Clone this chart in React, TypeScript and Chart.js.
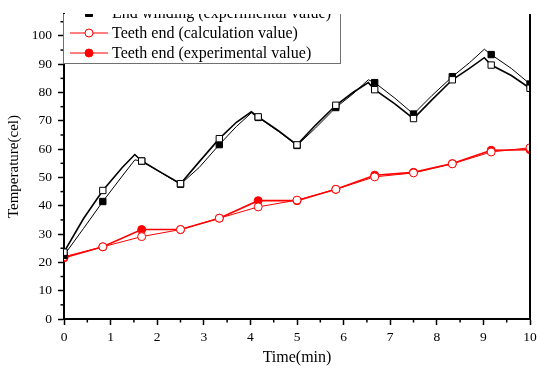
import React, { useEffect, useRef } from "react";
import { Chart, registerables } from "chart.js";

Chart.register(...registerables);

const MARK_TIMES = [0, 0.833, 1.667, 2.5, 3.333, 4.167, 5, 5.833, 6.667, 7.5, 8.333, 9.167, 10];

const END_TIMES = [0, 0.42, 0.833, 1.25, 1.52, 1.667, 2.08, 2.5, 2.9, 3.333, 3.7, 4.02, 4.167, 4.6, 5, 5.4, 5.833, 6.2, 6.53, 6.667, 7.1, 7.5, 7.9, 8.333, 8.7, 9.02, 9.167, 9.6, 10];
const END_CALC = [23.6, 35.5, 45.4, 53.5, 58.1, 55.8, 51.8, 47.8, 55.5, 63.7, 69.5, 73.2, 71.4, 66.5, 61.5, 68.5, 75.5, 80, 83.5, 81, 76, 70.8, 77.5, 84.5, 88.5, 92.3, 89.7, 86, 81.5];
const END_EXP = [22.5, 32, 41.5, 50.5, 56.2, 55.8, 51.7, 47.6, 53.5, 61.6, 68, 72.8, 71.2, 66.3, 61.3, 67.5, 74.7, 79.5, 84.5, 83.5, 78, 72.4, 79, 85.6, 90.5, 95.3, 93.4, 88.5, 83];

const TEETH_TIMES = [0, 0.833, 1.667, 2.5, 3.333, 4.167, 5, 5.833, 6.667, 7.5, 8.333, 9.167, 10];
const TEETH_CALC = [22, 25.5, 29.1, 31.6, 35.6, 39.6, 42, 45.8, 50.2, 51.6, 54.8, 59, 60.5];
const TEETH_EXP = [21.6, 25.5, 31.6, 31.6, 35.6, 41.8, 41.8, 45.8, 50.8, 51.8, 54.9, 59.6, 59.8];

const X_TICKS = [0, 1, 2, 3, 4, 5, 6, 7, 8, 9, 10];
const X_MINOR = [0.5, 1.5, 2.5, 3.5, 4.5, 5.5, 6.5, 7.5, 8.5, 9.5];
const Y_TICKS = [0, 10, 20, 30, 40, 50, 60, 70, 80, 90, 100];
const Y_MINOR = [5, 15, 25, 35, 45, 55, 65, 75, 85, 95, 105];

const LEGEND_LABELS = [
  "End winding (calculation value)",
  "End winding (experimental value)",
  "Teeth end (calculation value)",
  "Teeth end (experimental value)",
];

const FONT = "'Liberation Serif', 'Times New Roman', serif";

function isMark(x: number) {
  return MARK_TIMES.some((m) => Math.abs(m - x) < 0.005);
}

function drawMarker(ctx: CanvasRenderingContext2D, style: string, color: string, filled: boolean, x: number, y: number) {
  ctx.save();
  ctx.lineWidth = 1;
  ctx.strokeStyle = color;
  ctx.fillStyle = filled ? color : "#ffffff";
  ctx.beginPath();
  if (style === "rect") {
    ctx.rect(x - 3.5, y - 3.5, 7, 7);
  } else {
    ctx.arc(x, y, 4, 0, Math.PI * 2);
  }
  ctx.fill();
  ctx.stroke();
  ctx.restore();
}

export default function App() {
  const ref = useRef<HTMLCanvasElement | null>(null);

  useEffect(() => {
    document.body.style.margin = "0";
    const canvas = ref.current;
    if (!canvas) return;

    const mk = (times: number[], vals: number[]) => times.map((t, i) => ({ x: t, y: vals[i] }));

    const series = [
      { label: LEGEND_LABELS[0], data: mk(END_TIMES, END_CALC), color: "#000000", style: "rect", filled: false, width: 1.6 },
      { label: LEGEND_LABELS[1], data: mk(END_TIMES, END_EXP), color: "#000000", style: "rect", filled: true, width: 1 },
      { label: LEGEND_LABELS[2], data: mk(TEETH_TIMES, TEETH_CALC), color: "#ff0000", style: "circle", filled: false, width: 1 },
      { label: LEGEND_LABELS[3], data: mk(TEETH_TIMES, TEETH_EXP), color: "#ff0000", style: "circle", filled: true, width: 1.6 },
    ];

    const extras = {
      id: "extras",
      afterDatasetsDraw(chart: any) {
        const ctx = chart.ctx as CanvasRenderingContext2D;
        const area = chart.chartArea;
        const xs = chart.scales.x;
        const ys = chart.scales.y;
        ctx.save();
        ctx.strokeStyle = "#000";
        ctx.lineWidth = 1.5;
        for (const v of X_MINOR) {
          const px = xs.getPixelForValue(v);
          ctx.beginPath();
          ctx.moveTo(px, area.bottom);
          ctx.lineTo(px, area.bottom + 3.5);
          ctx.stroke();
        }
        for (const v of Y_MINOR) {
          const py = ys.getPixelForValue(v);
          ctx.beginPath();
          ctx.moveTo(area.left, py);
          ctx.lineTo(area.left - 3.5, py);
          ctx.stroke();
        }
        ctx.lineWidth = 2;
        ctx.beginPath();
        ctx.moveTo(area.right, area.top);
        ctx.lineTo(area.right, area.bottom + 1);
        ctx.stroke();
        ctx.restore();

        ctx.save();
        ctx.beginPath();
        ctx.rect(0, area.top, chart.width, chart.height - area.top);
        ctx.clip();
        const boxL = area.left - 1;
        const boxR = 340;
        const boxB = 63;
        const boxT = -30;
        ctx.fillStyle = "#ffffff";
        ctx.fillRect(boxL, boxT, boxR - boxL, boxB - boxT);
        ctx.strokeStyle = "#707070";
        ctx.lineWidth = 1;
        ctx.strokeRect(boxL + 0.5, boxT + 0.5, boxR - boxL, boxB - boxT);
        const rowY = [-7, 13, 33, 53];
        ctx.font = `16px ${FONT}`;
        ctx.textBaseline = "middle";
        ctx.textAlign = "left";
        series.forEach((s, i) => {
          const y = rowY[i];
          ctx.strokeStyle = s.color;
          ctx.lineWidth = 1.2;
          ctx.beginPath();
          ctx.moveTo(70, y);
          ctx.lineTo(108, y);
          ctx.stroke();
          drawMarker(ctx, s.style, s.color, s.filled, 89, y);
          ctx.fillStyle = "#000";
          ctx.fillText(s.label, 112, y + 1);
        });
        ctx.restore();
      },
    };

    const chart = new Chart(canvas, {
      type: "line",
      data: {
        datasets: series.map((s) => ({
          label: s.label,
          data: s.data,
          borderColor: s.color,
          backgroundColor: s.filled ? s.color : "#ffffff",
          borderWidth: s.width,
          pointStyle: s.style as any,
          pointRadius: (c: any) => (isMark(c.raw?.x) ? (s.style === "rect" ? 4.5 : 4) : 0),
          pointBorderWidth: 1,
          pointBorderColor: s.color,
          pointBackgroundColor: s.filled ? s.color : "#ffffff",
          tension: 0,
          fill: false,
        })),
      },
      options: {
        animation: false,
        responsive: false,
        maintainAspectRatio: false,
        layout: { padding: { top: 12, right: 7, left: 0, bottom: 0 } },
        plugins: { legend: { display: false }, tooltip: { enabled: false } },
        scales: {
          x: {
            type: "linear",
            min: 0,
            max: 10,
            afterBuildTicks: (sc: any) => {
              sc.ticks = X_TICKS.map((v) => ({ value: v }));
            },
            afterFit: (sc: any) => {
              sc.height = 53;
              sc.paddingRight = 0;
              sc.paddingLeft = 0;
            },
            ticks: {
              color: "#000",
              font: { family: FONT, size: 13.5 },
              padding: 4,
              maxRotation: 0,
              autoSkip: false,
            },
            grid: {
              drawOnChartArea: false,
              drawTicks: true,
              tickLength: 6,
              tickWidth: 1.5,
              tickColor: "#000",
            },
            border: { display: true, color: "#000", width: 2 },
            title: {
              display: true,
              text: "Time(min)",
              color: "#000",
              font: { family: FONT, size: 16 },
              padding: { top: 0, bottom: 5 },
            },
          },
          y: {
            type: "linear",
            min: 0,
            max: 107.7,
            afterBuildTicks: (sc: any) => {
              sc.ticks = Y_TICKS.map((v) => ({ value: v }));
            },
            afterFit: (sc: any) => {
              sc.width = 64;
            },
            ticks: {
              color: "#000",
              font: { family: FONT, size: 13.5 },
              padding: 6,
              autoSkip: false,
            },
            grid: {
              drawOnChartArea: false,
              drawTicks: true,
              tickLength: 6,
              tickWidth: 1.5,
              tickColor: "#000",
            },
            border: { display: true, color: "#000", width: 2 },
            title: {
              display: true,
              text: "Temperature(cel)",
              color: "#000",
              font: { family: FONT, size: 15 },
              padding: { top: 5, bottom: 0 },
            },
          },
        },
      },
      plugins: [extras],
    });

    return () => chart.destroy();
  }, []);

  return (
    <div style={{ width: 537, height: 372 }}>
      <canvas ref={ref} width={537} height={372} style={{ display: "block", width: 537, height: 372 }} />
    </div>
  );
}
